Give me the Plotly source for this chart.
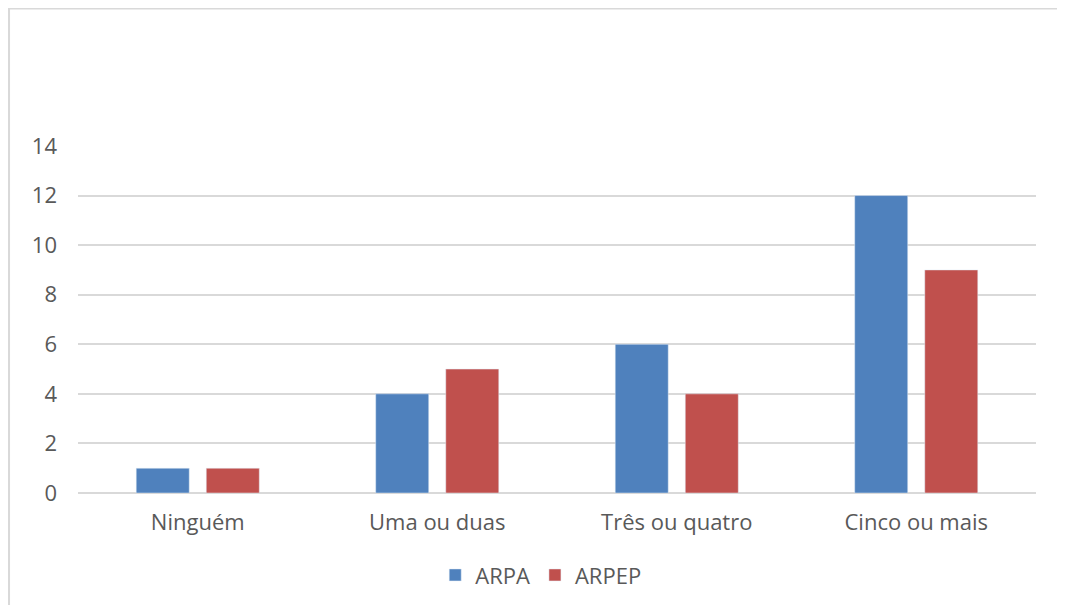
import plotly.graph_objects as go

categories = ['Ninguém', 'Uma ou duas', 'Três ou quatro', 'Cinco ou mais']
arpa = [1, 4, 6, 12]
arpep = [1, 5, 4, 9]
y_ticks = [0, 2, 4, 6, 8, 10, 12, 14]

fig = go.Figure()
fig.add_trace(go.Bar(x=categories, y=arpa, name='ARPA', marker_color='#4f81bd'))
fig.add_trace(go.Bar(x=categories, y=arpep, name='ARPEP', marker_color='#c0504d'))

# page body has an 8px margin, so the figure is 8px smaller than the window
fig.update_layout(
    width=1057, height=597,
    margin=dict(l=70, r=29, t=138, b=112),
    paper_bgcolor='white', plot_bgcolor='white',
    font=dict(family='Open Sans', size=22, color='#595959'),
    barmode='group', bargap=0.415, bargroupgap=0.243,
    showlegend=True,
    legend=dict(orientation='h', x=0.483, xanchor='center', yref='container', y=0.05, yanchor='middle',
                font=dict(size=22, color='#595959'), itemwidth=30),
)
fig.update_xaxes(showgrid=False, showline=False, ticks='', ticklabelstandoff=14)
fig.update_yaxes(range=[0, 14], tickvals=y_ticks, showgrid=True, gridcolor='#d9d9d9', gridwidth=1.5,
                 zeroline=True, zerolinecolor='#d9d9d9', zerolinewidth=1.5,
                 ticks='', ticklabelstandoff=20)

# chart border (cropped at right and bottom in reference)
fig.add_shape(type='rect', xref='paper', yref='paper', x0=-0.072, x1=1.2, y0=-0.5, y1=1.396,
              line=dict(color='#d9d9d9', width=2), layer='below')

fig.write_html("out.html")
